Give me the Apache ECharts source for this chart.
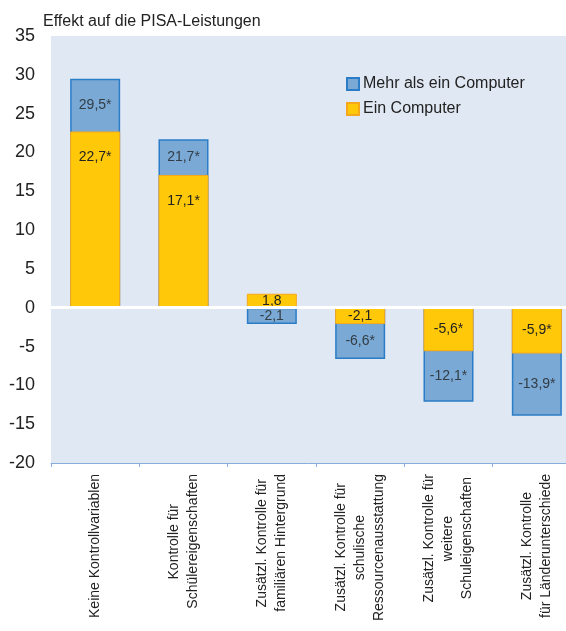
<!DOCTYPE html>
<html>
<head>
<meta charset="utf-8">
<script src="https://cdn.jsdelivr.net/npm/echarts@6/dist/echarts.min.js"></script>
<style>
  html, body { margin: 0; padding: 0; background: #fff; }
  #chart { width: 566px; height: 631px; }
</style>
</head>
<body>
<div id="chart"></div>
<script>
// Kategorien (x-Achse)
var categories = [
  'Keine Kontrollvariablen',
  'Kontrolle für\nSchülereigenschaften',
  'Zusätzl. Kontrolle für\nfamiliären Hintergrund',
  'Zusätzl. Kontrolle für\nschulische\nRessourcenausstattung',
  'Zusätzl. Kontrolle für\nweitere\nSchuleigenschaften',
  'Zusätzl. Kontrolle\nfür Länderunterschiede'
]
// Werte
var mehrComputer = [29.5, 21.7, -2.1, -6.6, -12.1, -13.9]
var einComputer = [22.7, 17.1, 1.8, -2.1, -5.6, -5.9]
// Beschriftungen
var mehrLabels = ['29,5*', '21,7*', '-2,1', '-6,6*', '-12,1*', '-13,9*']
var einLabels = ['22,7*', '17,1*', '1,8', '-2,1', '-5,6*', '-5,9*']

var FONT = 'Liberation Sans, Arial, sans-serif'
var TXT = '#222'

var chart = echarts.init(document.getElementById('chart'))

// Textbreiten messen, um mehrzeilige Achsenbeschriftungen zu zentrieren
var ctx = document.createElement('canvas').getContext('2d')
ctx.font = '14px "Liberation Sans", Arial, sans-serif'
var rich = { t: { fontFamily: FONT, fontSize: 14, color: TXT, lineHeight: 19 } }
var catLabels = categories.map(function (c, ci) {
  var lines = c.split('\n')
  var widths = lines.map(function (s) { return ctx.measureText(s).width })
  var maxW = Math.max.apply(null, widths)
  return lines.map(function (s, li) {
    var pad = Math.round((maxW - widths[li]) / 2)
    if (pad < 1) return '{t|' + s + '}'
    var key = 's' + ci + '_' + li
    rich[key] = { width: pad, fontSize: 14, lineHeight: 19 }
    return '{t|' + s + '}{' + key + '| }'
  }).join('\n')
})

// Blaue Beschriftung mittig im sichtbaren Teil des blauen Balkens
var mehrLabelPos = mehrComputer.map(function (b, i) {
  var y = einComputer[i]
  var lo = (y * b > 0) ? y : 0
  return (lo + b) / 2
})

var einData = einComputer.map(function (v) {
  return {
    value: v,
    label: v > 5
      ? { position: 'insideTop', distance: 19 }
      : { position: 'inside' }
  }
})

chart.setOption({
  animation: false,
  textStyle: { fontFamily: FONT },
  title: {
    text: 'Effekt auf die PISA-Leistungen',
    left: 43,
    top: 14,
    padding: 0,
    textStyle: { fontFamily: FONT, fontSize: 16, fontWeight: 'normal', color: TXT }
  },
  legend: {
    data: ['Mehr als ein Computer', 'Ein Computer'],
    orient: 'vertical',
    left: 346,
    top: 76,
    padding: 0,
    icon: 'rect',
    itemWidth: 12,
    itemHeight: 12,
    itemGap: 9,
    textStyle: { fontFamily: FONT, fontSize: 16, color: TXT, padding: [0, 0, 0, -1] }
  },
  grid: {
    left: 51,
    top: 36,
    width: 530,
    height: 427,
    outerBoundsMode: 'none',
    show: true,
    backgroundColor: '#e0e8f3',
    borderWidth: 0
  },
  xAxis: {
    type: 'category',
    data: catLabels,
    axisLine: { onZero: false, lineStyle: { color: '#86aedc', width: 1 } },
    axisTick: { show: true, length: 4, lineStyle: { color: '#86aedc' } },
    axisLabel: {
      interval: 0,
      rotate: 90,
      margin: 11,
      fontFamily: FONT,
      fontSize: 14,
      color: TXT,
      lineHeight: 19,
      rich: rich
    }
  },
  yAxis: {
    type: 'value',
    min: -20,
    max: 35,
    interval: 5,
    axisLine: { show: false },
    axisTick: { show: false },
    splitLine: { show: false },
    axisLabel: { fontFamily: FONT, fontSize: 18, color: TXT, margin: 16 }
  },
  series: [
    {
      name: 'Mehr als ein Computer',
      type: 'bar',
      barWidth: 50,
      barGap: '-100%',
      data: mehrComputer,
      itemStyle: { color: '#79a9d4', borderColor: '#2a7dc6', borderWidth: 1.5 }
    },
    {
      name: 'Ein Computer',
      type: 'bar',
      barWidth: 50,
      barGap: '-100%',
      data: einData,
      itemStyle: { color: '#ffc90a', borderColor: '#f6a81c', borderWidth: 1 },
      label: {
        show: true,
        fontFamily: FONT,
        fontSize: 14,
        color: TXT,
        formatter: function (p) { return einLabels[p.dataIndex] }
      },
      markLine: {
        silent: true,
        symbol: 'none',
        label: { show: false },
        lineStyle: { color: '#ffffff', width: 3, type: 'solid' },
        data: [{ yAxis: 0 }]
      }
    },
    {
      name: 'mehrLabels',
      type: 'scatter',
      symbolSize: 0,
      data: mehrLabelPos,
      z: 5,
      label: {
        show: true,
        position: 'inside',
        fontFamily: FONT,
        fontSize: 14,
        color: TXT,
        formatter: function (p) { return mehrLabels[p.dataIndex] }
      }
    }
  ]
})
</script>
</body>
</html>
